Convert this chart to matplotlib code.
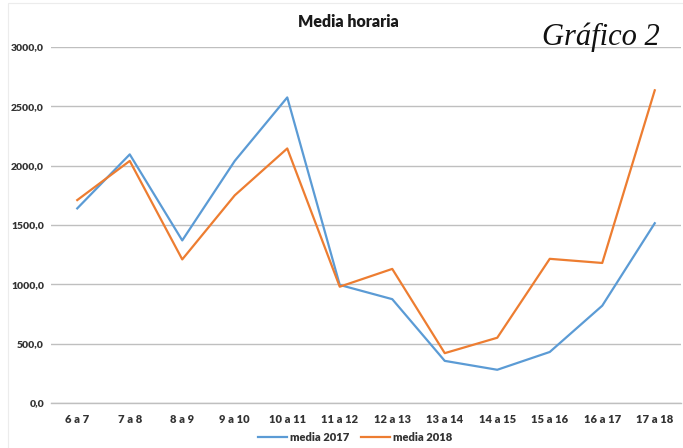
import matplotlib
matplotlib.use("Agg")
import matplotlib.pyplot as plt
from matplotlib.patches import Rectangle

# ── Data ─────────────────────────────────────────────────────────────────────
franjas = ["6 a 7", "7 a 8", "8 a 9", "9 a 10", "10 a 11", "11 a 12",
           "12 a 13", "13 a 14", "14 a 15", "15 a 16", "16 a 17", "17 a 18"]
media_2017 = [1640, 2095, 1370, 2040, 2575, 995, 875, 355, 280, 430, 820, 1515]
media_2018 = [1710, 2040, 1210, 1750, 2145, 980, 1130, 420, 550, 1215, 1180, 2635]
y_ticks = [0, 500, 1000, 1500, 2000, 2500, 3000]

C2017 = "#5b9bd5"
C2018 = "#ed7d31"
GRID = "#bfbfbf"
TXT = "#333333"
FONT = ["Lato", "DejaVu Sans"]

fig = plt.figure(figsize=(6.83, 4.48), dpi=100, facecolor="white")
# faint chart-area border
fig.patches.append(Rectangle((8/683, -0.1), 1.2, (448-3)/448 + 0.1, transform=fig.transFigure,
                             fill=False, edgecolor="#ececec", lw=0.8, zorder=0))

ax = fig.add_axes([51/683, 45/448, 630/683, 356/448])
x = range(len(franjas))
ax.plot(x, media_2017, color=C2017, lw=1.6, label="media 2017", zorder=3)
ax.plot(x, media_2018, color=C2018, lw=1.6, label="media 2018", zorder=3)

ax.set_xlim(-0.5, len(franjas) - 0.5)
ax.set_ylim(0, 3000)
ax.set_yticks(y_ticks)
ax.set_yticklabels([f"{v:.1f}".replace(".", ",") for v in y_ticks],
                   fontsize=7.5, fontweight="heavy", color=TXT, family=FONT)
ax.set_xticks(list(x))
ax.set_xticklabels(franjas, fontsize=8, fontweight="heavy", color=TXT, family=FONT)
ax.tick_params(axis="x", length=0, pad=8)
ax.tick_params(axis="y", length=0, pad=5)
ax.yaxis.grid(True, color=GRID, lw=1.0)
ax.set_axisbelow(True)
for s in ["top", "right", "left"]:
    ax.spines[s].set_visible(False)
ax.spines["bottom"].set_color(GRID)
ax.spines["bottom"].set_linewidth(1.0)

fig.text(348/683, 1 - 22/448, "Media horaria", ha="center", va="center",
         fontsize=11.5, fontweight="heavy", color="#1a1a1a", family=FONT)
fig.text(601/683, 1 - 37/448, "Gráfico 2", ha="center", va="center",
         fontsize=22, style="italic", color="#111111", family="Liberation Serif")

leg = fig.legend(loc="center", bbox_to_anchor=(355/683, 1 - 437/448), ncol=2,
                 frameon=False, handlelength=2.6, columnspacing=1.0,
                 handletextpad=0.3, prop={"family": FONT, "weight": "heavy", "size": 8})
for t in leg.get_texts():
    t.set_color(TXT)

fig.savefig("out.png", dpi=100, facecolor="white")
